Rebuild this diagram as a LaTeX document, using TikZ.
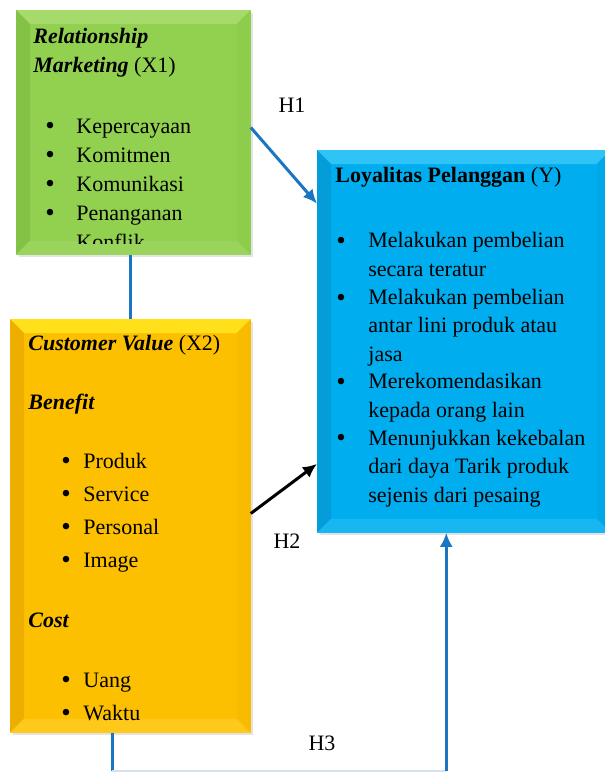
\documentclass[tikz,border=0pt]{standalone}
\usepackage{fontspec}
\setmainfont{Liberation Serif}
\usepackage{xcolor}
\usepackage{tikz}
\usetikzlibrary{calc,shadows,arrows.meta}

\definecolor{grn}{HTML}{92D050}
\definecolor{grntop}{HTML}{A6DA6A}
\definecolor{grnleft}{HTML}{84C247}
\definecolor{grnright}{HTML}{8ECD4C}
\definecolor{grnbot}{HTML}{9BD45C}
\definecolor{ylw}{HTML}{FDC000}
\definecolor{ylwtop}{HTML}{FFE01A}
\definecolor{ylwleft}{HTML}{EEAE00}
\definecolor{ylwright}{HTML}{F9BB00}
\definecolor{ylwbot}{HTML}{FFC91C}
\definecolor{cyn}{HTML}{00AEEF}
\definecolor{cyntop}{HTML}{30C3F6}
\definecolor{cynleft}{HTML}{049DDA}
\definecolor{cynright}{HTML}{00A8E8}
\definecolor{cynbot}{HTML}{18B7F2}
\definecolor{lnblue}{HTML}{1B75C2}
\definecolor{faint}{HTML}{D5E1EE}

\newcommand{\bevel}[5]{%
\fill[#2] (#1.north west) -- (#1.north east) -- ($(#1.north east)+(-14,14)$) -- ($(#1.north west)+(14,14)$) -- cycle;
\fill[#3] (#1.north west) -- ($(#1.north west)+(14,14)$) -- ($(#1.south west)+(14,-14)$) -- (#1.south west) -- cycle;
\fill[#4] (#1.north east) -- ($(#1.north east)+(-14,14)$) -- ($(#1.south east)+(-14,-14)$) -- (#1.south east) -- cycle;
\fill[#5] (#1.south west) -- ($(#1.south west)+(14,-14)$) -- ($(#1.south east)+(-14,-14)$) -- (#1.south east) -- cycle;
}

\begin{document}
\begin{tikzpicture}[x=0.5pt,y=-0.5pt,
  box/.style={rectangle,inner sep=0pt,anchor=north west,drop shadow={opacity=0.22,shadow xshift=1.5pt,shadow yshift=-1.5pt}},
  txt/.style={anchor=base west,inner sep=0pt,align=left,font=\fontsize{11}{14.1}\selectfont},
  dot/.style={anchor=base,inner sep=0pt,font=\fontsize{13.5}{14}\selectfont},
  link/.style={draw=lnblue,line width=1.5pt},
  tip/.style={-{Latex[length=7pt,width=6.5pt]}}]
\useasboundingbox (0,0) rectangle (605,773);

% boxes
\node[box,fill=grn,minimum width=117pt,minimum height=122pt] (rm) at (16,10) {};
\bevel{rm}{grntop}{grnleft}{grnright}{grnbot}
\node[box,fill=ylw,minimum width=120pt,minimum height=206.5pt] (cv) at (10,319) {};
\bevel{cv}{ylwtop}{ylwleft}{ylwright}{ylwbot}
\node[box,fill=cyn,minimum width=146.5pt,minimum height=191pt] (loy) at (317,150) {};
\bevel{loy}{cyntop}{cynleft}{cynright}{cynbot}

% relationship marketing (base = last line)
\node[txt] (rmhead) at (33,72) {\textbf{\textit{Relationship}}\\[0.4pt]\textbf{\textit{Marketing}} (X1)};
\node[dot] (rmb1) at (50,134) {\textbullet};
\node[dot] (rmb2) at (50,163) {\textbullet};
\node[dot] (rmb3) at (50,192) {\textbullet};
\node[dot] (rmb4) at (50,221) {\textbullet};
\node[txt] (rmi1) at (76,133) {Kepercayaan};
\node[txt] (rmi2) at (76,162) {Komitmen};
\node[txt] (rmi3) at (76,191) {Komunikasi};
\begin{scope}
\clip (rm.north west) rectangle ($(rm.south east)+(0,-11)$);
\node[txt] (rmi4) at (76,249) {Penanganan\\[0.4pt]Konflik};
\end{scope}

% customer value
\node[txt] (cvhead) at (28,350) {\textbf{\textit{Customer Value}} (X2)};
\node[txt] (cvben) at (28,409) {\textbf{\textit{Benefit}}};
\node[dot] (cvb1) at (66,469) {\textbullet};
\node[dot] (cvb2) at (66,502) {\textbullet};
\node[dot] (cvb3) at (66,535) {\textbullet};
\node[dot] (cvb4) at (66,568) {\textbullet};
\node[txt] (cvi1) at (83,468) {Produk};
\node[txt] (cvi2) at (83,501) {Service};
\node[txt] (cvi3) at (83,534) {Personal};
\node[txt] (cvi4) at (83,567) {Image};
\node[txt] (cvcost) at (28,627) {\textbf{\textit{Cost}}};
\node[dot] (cvb5) at (66,688) {\textbullet};
\node[dot] (cvb6) at (66,721) {\textbullet};
\node[txt] (cvi5) at (83,687) {Uang};
\node[txt] (cvi6) at (83,720) {Waktu};

% loyalitas (base = last line)
\node[txt] (loyhead) at (335,182) {\textbf{Loyalitas Pelanggan} (Y)};
\node[dot] (loyb1) at (341,249) {\textbullet};
\node[dot] (loyb2) at (341,306) {\textbullet};
\node[dot] (loyb3) at (341,390) {\textbullet};
\node[dot] (loyb4) at (341,446) {\textbullet};
\node[txt] (loyi1) at (368,276) {Melakukan pembelian\\secara teratur};
\node[txt] (loyi2) at (368,361) {Melakukan pembelian\\antar lini produk atau\\jasa};
\node[txt] (loyi3) at (368,417) {Merekomendasikan\\kepada orang lain};
\node[txt] (loyi4) at (368,502) {Menunjukkan kekebalan\\dari daya Tarik produk\\sejenis dari pesaing};

% links
\coordinate (h3base) at (0,771);
\draw[link] (cv.north) -- (cv.north |- rm.south);
\draw[link,tip] ($(rm.north east)!0.48!(rm.south east)$) -- ($(loy.north west)!0.14!(loy.south west)$);
\draw[line width=1.5pt,tip] ($(cv.north east)!0.47!(cv.south east)$) -- ($(loy.north west)!0.82!(loy.south west)$);
\coordinate (cvout) at ($(cv.south west)!0.425!(cv.south east)$);
\coordinate (loyin) at ($(loy.south west)!0.44!(loy.south east)$);
\draw[link] (cvout) -- (cvout |- h3base);
\draw[faint,line width=0.8pt] (cvout |- h3base) -- (loyin |- h3base);
\draw[link,tip] (loyin |- h3base) -- (loyin);

\node[font=\fontsize{11}{14}\selectfont] (h1) at (292,105) {H1};
\node[font=\fontsize{11}{14}\selectfont] (h2) at (287,541) {H2};
\node[font=\fontsize{11}{14}\selectfont] (h3) at (322,743) {H3};
\end{tikzpicture}
\end{document}
